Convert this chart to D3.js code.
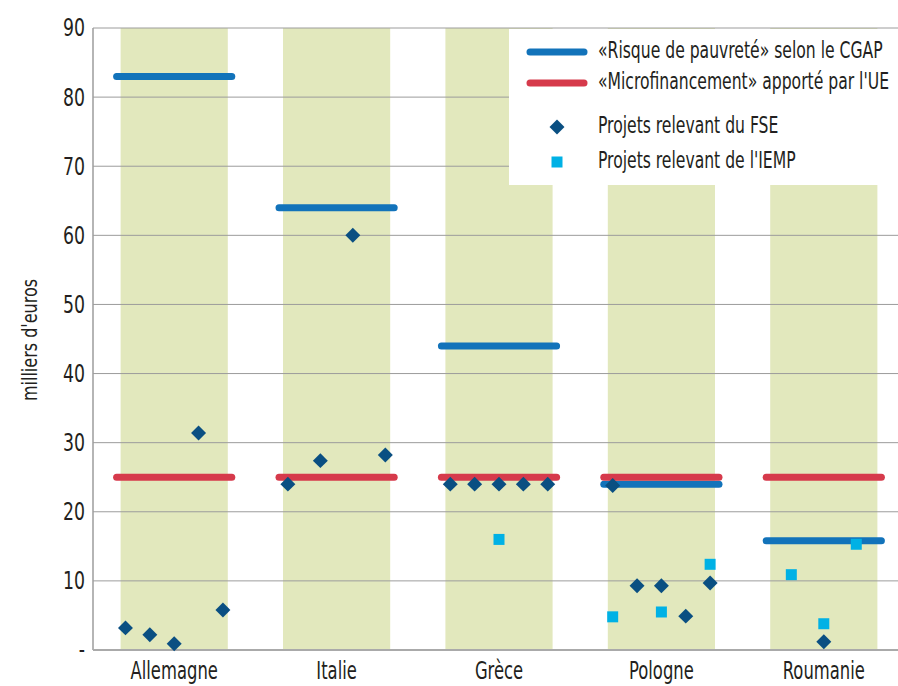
<!DOCTYPE html>
<html>
<head>
<meta charset="utf-8">
<script src="https://cdn.jsdelivr.net/npm/d3@7"></script>
<style>
  body { margin: 0; background: #fff; }
  text { font-family: "Liberation Sans Narrow", "DejaVu Sans Condensed", sans-serif; fill: #231f20; }
</style>
</head>
<body>
<svg id="chart" width="898" height="686"></svg>
<script>
const countries = ['Allemagne', 'Italie', 'Grèce', 'Pologne', 'Roumanie'];
const riskValues = [83, 64, 44, 24, 15.8];
const microValues = [25, 25, 25, 25, 25];
// one entry per project, null when the project has no value for that fund
const fseProjects = [
  [3.2, 2.2, 0.9, 31.4, 5.8],
  [24, 27.4, 60, 28.2],
  [24, 24, 24, 24, 24],
  [23.8, 9.3, 9.3, 4.9, 9.7],
  [null, 1.2, null],
];
const iempProjects = [
  [null, null, null, null, null],
  [null, null, null, null],
  [null, null, 16, null, null],
  [4.8, null, 5.5, null, 12.4],
  [10.9, 3.8, 15.3],
];
const yTicks = [0, 10, 20, 30, 40, 50, 60, 70, 80, 90];
const legendLabels = [
  '«Risque de pauvreté» selon le CGAP',
  '«Microfinancement» apporté par l\'UE',
  'Projets relevant du FSE',
  'Projets relevant de l\'IEMP',
];

const blue = '#1273ba';
const red = '#d63a4b';
const navy = '#0a4f82';
const cyan = '#00b1e5';
const band = '#e2e8bd';
const grid = '#9c9c9c';

const m = { left: 93, right: 898, top: 28, bottom: 650 };
const svg = d3.select('#chart');

const x = d3.scaleBand().domain(countries).range([m.left, 905]).paddingInner(0.34).paddingOuter(0.17);
const y = d3.scaleLinear().domain([0, 90]).range([m.bottom, m.top]);

function slotX(country, i, n) {
  const center = x(country) + x.bandwidth() / 2;
  const spacing = n > 1 ? x.step() * Math.min(0.2, 0.6 / (n - 1)) : 0;
  return center + (i - (n - 1) / 2) * spacing;
}

// the reference uses a condensed face; squeeze the available one horizontally
function place(sel, fx, fy, sx, rot = 0) {
  sel.attr('transform', (d, i) => `translate(${fx(d, i)},${fy(d, i)}) rotate(${rot}) scale(${sx},1)`);
}

// bands
svg.append('g')
  .selectAll('rect')
  .data(countries)
  .join('rect')
  .attr('x', (d) => x(d))
  .attr('y', m.top)
  .attr('width', x.bandwidth())
  .attr('height', m.bottom - m.top)
  .attr('fill', band);

// gridlines
svg.append('g')
  .selectAll('line')
  .data(yTicks.filter((d) => d > 0))
  .join('line')
  .attr('x1', m.left)
  .attr('x2', m.right)
  .attr('y1', (d) => y(d))
  .attr('y2', (d) => y(d))
  .attr('stroke', grid)
  .attr('stroke-width', 1);

// axes
svg.append('line')
  .attr('x1', m.left).attr('x2', m.left)
  .attr('y1', m.top).attr('y2', m.bottom)
  .attr('stroke', grid).attr('stroke-width', 1.5);
svg.append('line')
  .attr('x1', m.left).attr('x2', m.right)
  .attr('y1', m.bottom).attr('y2', m.bottom)
  .attr('stroke', '#aaaaaa').attr('stroke-width', 2);

svg.append('g')
  .selectAll('text')
  .data(yTicks)
  .join('text')
  .attr('dy', '0.35em')
  .attr('text-anchor', 'end')
  .style('font-size', '24px')
  .text((d) => (d === 0 ? '-' : d))
  .call(place, () => 85, (d) => y(d), 0.8);

svg.append('text')
  .attr('text-anchor', 'middle')
  .style('font-size', '22px')
  .text("milliers d'euros")
  .call(place, () => 36.5, () => 340, 0.81, -90);

svg.append('g')
  .selectAll('text')
  .data(countries)
  .join('text')
  .attr('text-anchor', 'middle')
  .style('font-size', '24px')
  .text((d) => d)
  .call(place, (d) => x(d) + x.bandwidth() / 2, () => 679, 0.76);

// legend box
svg.append('rect')
  .attr('x', 509).attr('y', 29)
  .attr('width', m.right - 509).attr('height', 156)
  .attr('fill', '#fff');

// horizontal reference lines
function drawLevels(values, color) {
  svg.append('g')
    .selectAll('line')
    .data(countries)
    .join('line')
    .attr('x1', (d) => x(d) - 4)
    .attr('x2', (d) => x(d) + x.bandwidth() + 4)
    .attr('y1', (d, i) => y(values[i]))
    .attr('y2', (d, i) => y(values[i]))
    .attr('stroke', color)
    .attr('stroke-width', 7)
    .attr('stroke-linecap', 'round');
}
drawLevels(riskValues, blue);
drawLevels(microValues, red);

// points
const diamond = d3.symbol().type(d3.symbolSquare).size(112);
const square = d3.symbol().type(d3.symbolSquare).size(121);

function pointsOf(projects) {
  const out = [];
  projects.forEach((list, ci) => {
    list.forEach((v, i) => {
      if (v != null) out.push({ px: slotX(countries[ci], i, list.length), value: v });
    });
  });
  return out;
}

svg.append('g')
  .selectAll('path')
  .data(pointsOf(iempProjects))
  .join('path')
  .attr('d', square)
  .attr('transform', (d) => `translate(${d.px},${y(d.value)})`)
  .attr('fill', cyan);

svg.append('g')
  .selectAll('path')
  .data(pointsOf(fseProjects))
  .join('path')
  .attr('d', diamond)
  .attr('transform', (d) => `translate(${d.px},${y(d.value)}) rotate(45)`)
  .attr('fill', navy);

// legend
const legend = svg.append('g');
const rowY = [52, 83, 127, 162];
[blue, red].forEach((c, i) => {
  legend.append('line')
    .attr('x1', 530).attr('x2', 584)
    .attr('y1', rowY[i]).attr('y2', rowY[i])
    .attr('stroke', c).attr('stroke-width', 7)
    .attr('stroke-linecap', 'round');
});
legend.append('path')
  .attr('d', diamond)
  .attr('transform', `translate(557,${rowY[2]}) rotate(45)`)
  .attr('fill', navy);
legend.append('path')
  .attr('d', square)
  .attr('transform', `translate(557,${rowY[3]})`)
  .attr('fill', cyan);
legend.selectAll('text')
  .data(legendLabels)
  .join('text')
  .style('font-size', '23px')
  .text((d) => d)
  .call(place, () => 598, (d, i) => rowY[i] + 6, 0.755);
</script>
</body>
</html>
